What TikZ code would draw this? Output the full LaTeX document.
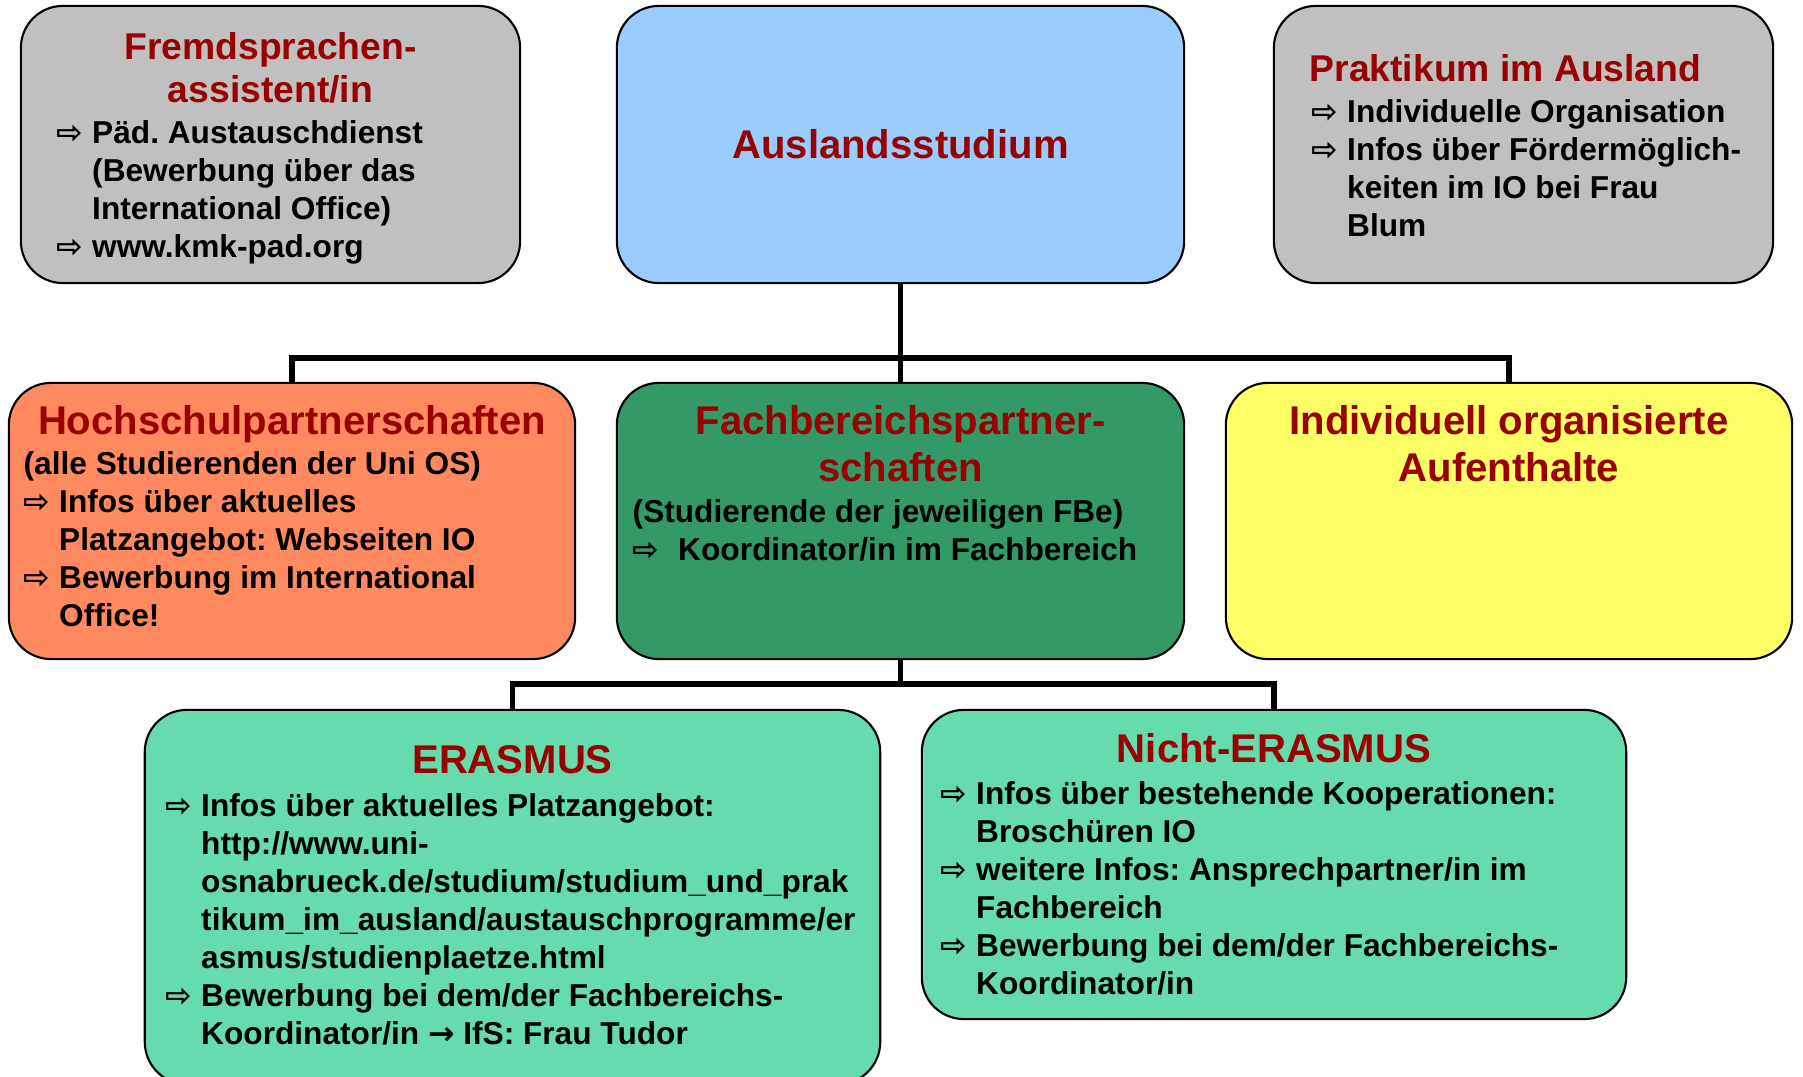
\documentclass[tikz,border=0pt]{standalone}
\usepackage{fontspec}
\setmainfont{Liberation Sans}
\newfontfamily\pfeilfont{DejaVu Sans}
\usetikzlibrary{positioning}
\frenchspacing
\definecolor{titelrot}{HTML}{990000}
\definecolor{grau}{HTML}{C0C0C0}
\definecolor{hellblau}{HTML}{99CCFF}
\definecolor{lachs}{HTML}{FF8A60}
\definecolor{dunkelgruen}{HTML}{339966}
\definecolor{gelb}{HTML}{FFFF66}
\definecolor{mint}{HTML}{66DBAE}
\newlength{\pfw}\setlength{\pfw}{0.355cm}
\newcommand{\pf}{\makebox[\pfw][l]{\pfeilfont\fontsize{9}{9}\selectfont ⇨}}
\newcommand{\ein}{\hspace*{\pfw}}

\begin{document}
\begin{tikzpicture}[x=0.01cm, y=-0.01cm,
  box/.style={draw, line width=0.6pt, rounded corners=0.42cm, fill=#1, inner sep=0pt},
  titel/.style={font=\bfseries\fontsize{11.4}{13.6}\selectfont, text=titelrot, align=center, anchor=base, inner sep=0pt},
  titelk/.style={titel, font=\bfseries\fontsize{10.6}{12.5}\selectfont},
  txt/.style={font=\bfseries\fontsize{9}{10.85}\selectfont, align=left, anchor=base west, inner sep=0pt},
  conn/.style={line width=1.5pt}
]
  \useasboundingbox (0,0) rectangle (1803,1077);
  % Kaesten
  \node[box=grau, minimum width=4.99cm, minimum height=2.77cm] (fremd) at (270.5,144.5) {};
  \node[box=hellblau, minimum width=5.67cm, minimum height=2.77cm] (ausl) at (900.5,144.5) {};
  \node[box=grau, minimum width=4.99cm, minimum height=2.77cm] (prakt) at (1523.5,144.5) {};
  \node[box=lachs, minimum width=5.66cm, minimum height=2.76cm] (hoch) at (292,521) {};
  \node[box=dunkelgruen, minimum width=5.67cm, minimum height=2.76cm] (fach) at (900.5,521) {};
  \node[box=gelb, minimum width=5.66cm, minimum height=2.76cm] (indiv) at (1509,521) {};
  \node[box=mint, minimum width=7.35cm, minimum height=3.74cm] (eras) at (512.5,897) {};
  \node[box=mint, minimum width=7.04cm, minimum height=3.09cm] (nicht) at (1274,864.5) {};
  % Verbindungen
  \coordinate (j1) at (900.5,358);
  \coordinate (j2) at (900.5,684);
  \draw[conn] (ausl.south) -- (fach.north);
  \draw[conn] (hoch.north) |- (j1) -| (indiv.north);
  \draw[conn] (fach.south) -- (j2);
  \draw[conn] (eras.north) |- (j2) -| (nicht.north);
  % Texte (base = letzte Zeile)
  \node[titelk] (fremd-t) at (270.5,103) {Fremdsprachen-\\assistent/in};
  \node[txt] (fremd-b) at (56,258) {\pf Päd. Austauschdienst\\\ein(Bewerbung über das\\\ein International Office)\\\pf www.kmk-pad.org};
  \node[titel] (ausl-t) at (900.5,159) {Auslandsstudium};
  \node[titelk, anchor=base west] (prakt-t) at (1309,82) {Praktikum im Ausland};
  \node[txt] (prakt-b) at (1311,237) {\pf Individuelle Organisation\\\pf Infos über Fördermöglich-\\\ein keiten im IO bei Frau\\\ein Blum};
  \node[titel] (hoch-t) at (292,435) {Hochschulpartnerschaften};
  \node[txt] (hoch-b) at (23,627) {(alle Studierenden der Uni OS)\\\pf Infos über aktuelles\\\ein Platzangebot: Webseiten IO\\\pf Bewerbung im International\\\ein Office!};
  \node[titel] (fach-t) at (900.5,482) {Fachbereichspartner-\\schaften};
  \node[txt] (fach-b) at (632,561) {(Studierende der jeweiligen FBe)\\\pf\hspace{0.1cm}Koordinator/in im Fachbereich};
  \node[titel] (indiv-t) at (1509,482) {Individuell organisierte\\Aufenthalte};
  \node[titel] (eras-t) at (512.5,774) {ERASMUS};
  \node[txt] (eras-b) at (165,1045) {\pf Infos über aktuelles Platzangebot:\\\ein http://www.uni-\\\ein osnabrueck.de/studium/studium\_und\_prak\\\ein tikum\_im\_ausland/austauschprogramme/er\\\ein asmus/studienplaetze.html\\\pf Bewerbung bei dem/der Fachbereichs-\\\ein Koordinator/in {\pfeilfont\bfseries →} IfS: Frau Tudor};
  \node[titel] (nicht-t) at (1274,763) {Nicht-ERASMUS};
  \node[txt] (nicht-b) at (940,995) {\pf Infos über bestehende Kooperationen:\\\ein Broschüren IO\\\pf weitere Infos: Ansprechpartner/in im\\\ein Fachbereich\\\pf Bewerbung bei dem/der Fachbereichs-\\\ein Koordinator/in};
\end{tikzpicture}
\end{document}
